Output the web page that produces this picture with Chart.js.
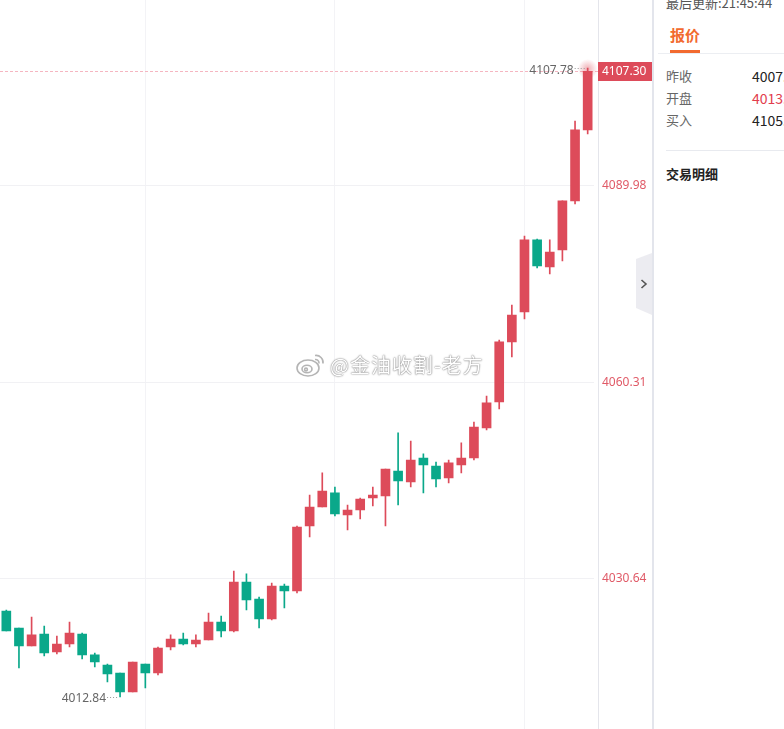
<!DOCTYPE html>
<html>
<head>
<meta charset="utf-8">
<script src="https://cdn.jsdelivr.net/npm/chart.js@4.4.1/dist/chart.umd.min.js"></script>
<style>
  html, body { margin: 0; padding: 0; background: #fff; }
  body { width: 784px; height: 729px; overflow: hidden; position: relative; font-family: "Noto Sans CJK SC", "Noto Sans", sans-serif; }
  #chartBox { position: absolute; left: 0; top: -16px; width: 652px; height: 780px; }
  .panel { position: absolute; left: 652px; top: 0; width: 132px; height: 729px; border-left: 2px solid #e3e5ec; box-sizing: border-box; overflow: hidden; background: #fff; }
  .panel div { position: absolute; white-space: nowrap; }
  .updated { left: 12px; top: -6px; font-size: 13px; line-height: 18px; color: #555; }
  .tab { left: 16px; top: 25px; font-size: 15px; line-height: 20px; font-weight: bold; color: #f26a2f; }
  .tabLine { left: 16px; top: 50px; width: 30px; height: 3px; background: #f26a2f; }
  .sep1 { left: 4px; top: 53px; width: 130px; height: 1px; background: #eceef2; }
  .lbl { left: 12px; font-size: 13px; line-height: 18px; color: #666; }
  .val { left: 98px; font-size: 14px; line-height: 18px; color: #222; }
  .val.red { color: #e23d4d; }
  .sep2 { left: 12px; top: 150px; width: 130px; height: 1px; background: #e8eaef; }
  .detail { left: 12px; top: 165px; font-size: 13px; line-height: 18px; font-weight: bold; color: #222; }
  .fold { position: absolute; left: 636px; top: 253px; width: 16px; height: 62px; background: #ececf1; clip-path: polygon(0 6px, 100% 0, 100% 100%, 0 55px); }
  .fold svg { position: absolute; left: 4px; top: 26px; }
  .mark { position: absolute; left: 296px; top: 350px; display: flex; align-items: center; pointer-events: none; }
  .mark span { font-size: 20px; letter-spacing: 1px; color: #fff; text-shadow: 0 0 2px rgba(0,0,0,0.45), 0 0 1px rgba(0,0,0,0.5); margin-left: 4px; }
</style>
</head>
<body>
<div id="chartBox"><canvas id="kline" width="652" height="780"></canvas></div>

<div class="mark">
  <svg width="30" height="26" viewBox="0 0 30 26">
    <g fill="none" stroke="#b5b5b5" stroke-width="1.6">
      <ellipse cx="12" cy="16" rx="11" ry="8" fill="#fff"/>
      <ellipse cx="11" cy="17" rx="5" ry="3.8"/>
      <circle cx="10" cy="17.5" r="1.4"/>
      <path d="M19 3.5 a7 7 0 0 1 8 8"/>
      <path d="M19 7.5 a3.5 3.5 0 0 1 4 4"/>
    </g>
  </svg>
  <span>@金油收割-老方</span>
</div>

<div class="fold">
  <svg width="8" height="10" viewBox="0 0 8 10"><polyline points="1.5,1 6,5 1.5,9" fill="none" stroke="#555" stroke-width="1.6"/></svg>
</div>

<div class="panel">
  <div class="updated">最后更新:21:45:44</div>
  <div class="tab">报价</div>
  <div class="sep1"></div>
  <div class="tabLine"></div>
  <div class="lbl" style="top:67px">昨收</div><div class="val" style="top:67px">4007.</div>
  <div class="lbl" style="top:89px">开盘</div><div class="val red" style="top:89px">4013.</div>
  <div class="lbl" style="top:111px">买入</div><div class="val" style="top:111px">4105.</div>
  <div class="sep2"></div>
  <div class="detail">交易明细</div>
</div>

<script>
// one-minute candles, 20:59 - 21:45
const times = ["20:59","21:00","21:01","21:02","21:03","21:04","21:05","21:06","21:07","21:08",
  "21:09","21:10","21:11","21:12","21:13","21:14","21:15","21:16","21:17","21:18",
  "21:19","21:20","21:21","21:22","21:23","21:24","21:25","21:26","21:27","21:28",
  "21:29","21:30","21:31","21:32","21:33","21:34","21:35","21:36","21:37","21:38",
  "21:39","21:40","21:41","21:42","21:43","21:44","21:45"];

const opens = [4025.81,4023.24,4020.52,4022.34,4019.62,4020.83,4022.34,4019.17,4017.66,4016.45,
  4013.58,4017.81,4016.45,4020.37,4021.58,4020.83,4021.43,4024.15,4022.79,4030.19,
  4027.62,4024.60,4029.58,4028.83,4038.64,4041.51,4043.63,4040.31,4041.06,4042.87,
  4043.17,4046.95,4045.29,4048.91,4047.70,4045.89,4047.85,4048.91,4053.44,4057.37,
  4066.43,4070.96,4081.83,4077.75,4080.32,4087.72,4098.44];

const highs = [4025.96,4023.24,4024.90,4023.54,4022.03,4024.15,4022.49,4019.47,4017.81,4016.45,
  4018.11,4017.81,4020.37,4022.19,4022.49,4022.19,4025.51,4025.05,4031.85,4031.40,
  4027.92,4030.04,4029.89,4038.64,4043.32,4046.65,4044.53,4041.81,4042.87,4044.53,
  4047.25,4052.69,4051.48,4049.52,4048.31,4048.61,4051.18,4054.35,4058.27,4066.73,
  4072.01,4082.43,4081.98,4081.83,4087.72,4099.79,4107.78];

const lows = [4022.79,4017.20,4020.52,4019.02,4019.32,4020.37,4018.56,4017.35,4015.09,4012.84,
  4013.58,4014.18,4016.15,4019.92,4020.68,4020.37,4021.43,4021.88,4022.64,4025.96,
  4023.24,4024.45,4026.26,4028.53,4036.98,4041.51,4040.16,4038.04,4039.70,4041.66,
  4038.64,4041.81,4044.53,4043.63,4044.53,4045.14,4046.65,4048.61,4053.14,4056.31,
  4064.16,4069.90,4077.60,4076.69,4078.66,4087.26,4097.83];

const closes = [4022.79,4020.52,4022.19,4019.47,4020.83,4022.49,4019.17,4018.11,4016.30,4013.58,
  4018.11,4016.45,4020.22,4021.58,4020.83,4021.43,4024.15,4022.79,4030.19,4027.47,
  4024.60,4029.58,4028.83,4038.49,4041.51,4043.93,4040.46,4041.06,4042.72,4043.32,
  4047.25,4045.44,4048.61,4047.85,4045.74,4048.16,4048.91,4053.59,4057.22,4066.43,
  4070.50,4081.83,4077.90,4080.01,4087.72,4098.44,4107.30];

const yTicks = [4119.65, 4089.98, 4060.31, 4030.64];

// prices seen at the top and bottom edge of the window
const viewTop = 4118.06;
const viewBottom = 4007.99;
const canvasTop = -16;
const viewHeight = 729;

const upColor = '#dd4b5a';
const downColor = '#0aa88a';
const candleColor = ctx => closes[ctx.dataIndex] >= opens[ctx.dataIndex] ? upColor : downColor;

const bodies = opens.map((o, i) => [o, closes[i]]);
const wicks = lows.map((l, i) => [l, highs[i]]);

const overlay = {
    id: 'overlay',
    beforeDatasetsDraw(chart) {
        const { ctx, chartArea, scales: { y } } = chart;
        const axisX = chartArea.right + 4;
        const ly = Math.round(y.getPixelForValue(closes[closes.length - 1])) + 0.5;
        ctx.save();
        ctx.strokeStyle = '#f5b6c1';
        ctx.lineWidth = 1;
        ctx.setLineDash([3, 2]);
        ctx.beginPath();
        ctx.moveTo(0, ly);
        ctx.lineTo(axisX, ly);
        ctx.stroke();
        ctx.restore();
    },
    afterDatasetsDraw(chart) {
        const { ctx, chartArea, scales: { x, y } } = chart;
        const axisX = chartArea.right + 4;
        ctx.save();

        // axis border
        ctx.strokeStyle = '#e4e5eb';
        ctx.lineWidth = 1;
        ctx.beginPath();
        ctx.moveTo(axisX + 0.5, 0);
        ctx.lineTo(axisX + 0.5, chart.height);
        ctx.stroke();

        // glow on the newest candle
        const hiIdx = highs.indexOf(Math.max(...highs));
        const loIdx = lows.indexOf(Math.min(...lows));
        const hx = x.getPixelForValue(hiIdx);
        const hy = y.getPixelForValue(highs[hiIdx]);
        const g = ctx.createRadialGradient(hx, hy + 1, 0, hx, hy + 1, 10);
        g.addColorStop(0, 'rgba(221,75,90,0.45)');
        g.addColorStop(1, 'rgba(221,75,90,0)');
        ctx.fillStyle = g;
        ctx.beginPath();
        ctx.arc(hx, hy + 1, 10, 0, Math.PI * 2);
        ctx.fill();

        // high / low labels
        ctx.font = '12px "Noto Sans", sans-serif';
        ctx.textBaseline = 'middle';
        ctx.textAlign = 'right';
        ctx.fillStyle = '#666';
        ctx.strokeStyle = '#999';
        ctx.setLineDash([1, 2]);
        [[hiIdx, highs[hiIdx]], [loIdx, lows[loIdx]]].forEach(([idx, v]) => {
            const px = x.getPixelForValue(idx);
            const py = y.getPixelForValue(v);
            ctx.beginPath();
            ctx.moveTo(px - 13, Math.round(py) + 0.5);
            ctx.lineTo(px - 2, Math.round(py) + 0.5);
            ctx.stroke();
            ctx.fillText(v.toFixed(2), px - 14, py + 2);
        });
        ctx.setLineDash([]);

        // last price tag
        const last = closes[closes.length - 1];
        const ly = Math.round(y.getPixelForValue(last));
        ctx.fillStyle = upColor;
        ctx.fillRect(axisX, ly - 9, chart.width - axisX, 19);
        ctx.fillStyle = '#fff';
        ctx.textAlign = 'left';
        ctx.font = '12px "Noto Sans", sans-serif';
        ctx.fillText(last.toFixed(2), axisX + 4, ly + 1);
        ctx.restore();
    }
};

const klineChart = new Chart(document.getElementById('kline').getContext('2d'), {
    type: 'bar',
    data: {
        labels: times,
        datasets: [
            {
                label: 'body',
                data: bodies,
                backgroundColor: candleColor,
                borderWidth: 0,
                barThickness: 9,
                grouped: false
            },
            {
                label: 'wick',
                data: wicks,
                backgroundColor: candleColor,
                borderWidth: 0,
                barThickness: 1,
                grouped: false
            }
        ]
    },
    options: {
        responsive: false,
        animation: false,
        devicePixelRatio: 1,
        layout: { padding: 0 },
        plugins: { legend: { display: false }, tooltip: { enabled: false } },
        scales: {
            x: {
                type: 'category',
                offset: true,
                grid: { offset: false, color: '#f3f3f6', drawTicks: false },
                border: { display: false },
                ticks: { display: false },
                afterBuildTicks: scale => {
                    scale.ticks = scale.ticks.filter(t => t.value % 15 === 11);
                }
            },
            y: {
                position: 'right',
                min: viewBottom,
                max: viewTop,
                grid: { color: '#f1f1f4', drawTicks: false },
                border: { display: false },
                ticks: {
                    color: '#e05a67',
                    padding: 8,
                    font: { size: 12, family: '"Noto Sans", sans-serif' },
                    callback: v => Number(v).toFixed(2)
                },
                afterBuildTicks: scale => {
                    scale.ticks = yTicks.map(v => ({ value: v }));
                },
                afterFit: scale => { scale.width = 58; }
            }
        }
    },
    plugins: [overlay]
});

// stretch the y range so the visible window shows viewTop..viewBottom
const area = klineChart.chartArea;
const pxPerPoint = viewHeight / (viewTop - viewBottom);
const areaTop = area.top + canvasTop;
const areaBottom = area.bottom + canvasTop;
klineChart.options.scales.y.max = viewTop - areaTop / pxPerPoint;
klineChart.options.scales.y.min = viewBottom - (areaBottom - viewHeight) / pxPerPoint;
klineChart.update();
</script>
</body>
</html>
